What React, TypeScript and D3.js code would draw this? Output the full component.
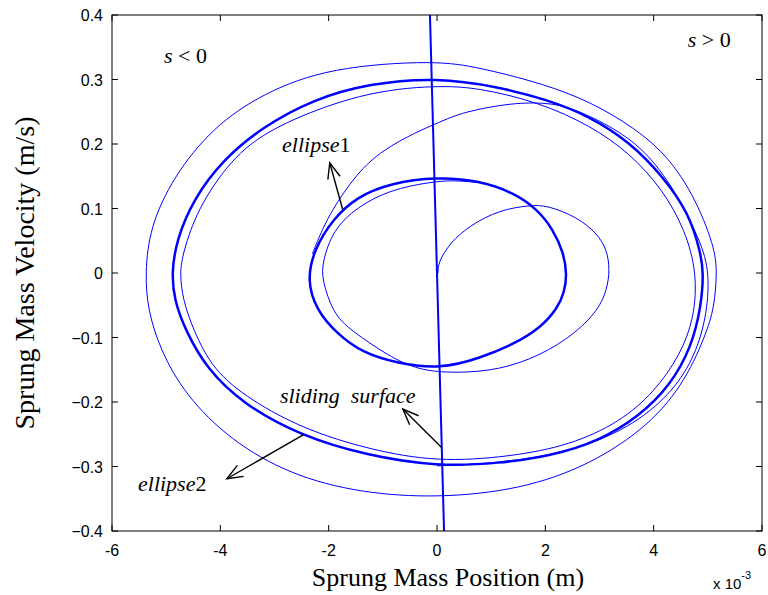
import React, { useEffect, useRef } from 'react';
import * as d3 from 'd3';

// axis ticks (position axis is in units of 1e-3 m)
const xTicks = [-6, -4, -2, 0, 2, 4, 6];
const yTicks = [-0.4, -0.3, -0.2, -0.1, 0, 0.1, 0.2, 0.3, 0.4];

// [position (x1e-3 m), velocity (m/s)]
const startPath: [number, number][] = [
  [0.02, 0.0], [0.02, 0.016], [0.24, 0.047], [0.61, 0.074], [1.16, 0.098], [1.72, 0.105],
  [2.03, 0.105], [2.58, 0.087], [2.95, 0.062], [3.14, 0.036], [3.19, 0.005],
  [3.14, -0.026], [2.95, -0.062], [2.4, -0.104], [1.72, -0.135], [0.98, -0.153],
  [0.11, -0.155], [-0.4, -0.148], [-0.87, -0.13], [-1.61, -0.088], [-1.92, -0.062],
  [-2.12, -0.011], [-2.12, 0.016], [-1.92, 0.067], [-1.48, 0.102], [-0.87, 0.129],
  [-0.13, 0.141], [0.3, 0.144], [0.79, 0.14],
];

const ellipse1: [number, number][] = [
  [0, 0.149], [0.79, 0.143], [1.4, 0.125], [1.85, 0.099], [2.14, 0.068],
  [2.34, 0.031], [2.4, -0.003], [2.35, -0.03], [2.23, -0.054], [1.9, -0.086],
  [1.4, -0.111], [0.79, -0.132], [0.06, -0.149], [-0.74, -0.14], [-1.37, -0.124],
  [-1.85, -0.094], [-2.23, -0.057], [-2.4, -0.011], [-2.27, 0.036], [-1.93, 0.083],
  [-1.48, 0.118], [-0.87, 0.139],
];

const transition: [number, number][] = [
  [-2.3, 0.03], [-2.2, 0.051], [-1.98, 0.093], [-1.48, 0.155], [-1.0, 0.191], [-0.37, 0.219],
  [0, 0.232], [0.48, 0.25], [1.4, 0.264], [2.03, 0.264], [2.46, 0.257],
  [3.19, 0.229], [3.84, 0.191], [4.39, 0.129], [4.86, 0.051], [5.04, 0],
  [4.97, -0.073], [4.73, -0.135], [4.3, -0.189], [3.56, -0.24], [2.46, -0.278],
  [1.16, -0.295], [0, -0.299],
];

const outerLoop: [number, number][] = [
  [0, 0.33], [0.79, 0.318], [1.72, 0.299], [2.64, 0.273], [3.43, 0.237],
  [4.17, 0.191], [4.73, 0.124], [5.13, 0.04], [5.17, 0], [5.12, -0.05],
  [5.0, -0.088], [4.6, -0.166], [3.93, -0.236], [2.82, -0.298], [1.53, -0.336], [0, -0.349],
  [-1.42, -0.341], [-2.71, -0.313], [-3.82, -0.259], [-4.65, -0.189], [-5.11, -0.119],
  [-5.34, -0.057], [-5.39, 0], [-5.3, 0.071], [-4.87, 0.149], [-4.14, 0.226],
  [-3.21, 0.279], [-1.98, 0.319],
];

const ellipse2: [number, number][] = [
  [0, 0.303], [1.11, 0.289], [2.03, 0.269], [2.82, 0.243], [3.56, 0.203],
  [4.17, 0.15], [4.65, 0.093], [4.87, 0.031], [4.92, 0], [4.88, -0.05],
  [4.7, -0.115], [4.3, -0.175], [3.75, -0.221], [3.01, -0.26], [2.09, -0.284],
  [1.16, -0.295], [0, -0.3], [-1.29, -0.283], [-2.53, -0.252],
  [-3.58, -0.203], [-4.25, -0.149], [-4.65, -0.088], [-4.85, -0.042], [-4.9, 0],
  [-4.81, 0.051], [-4.5, 0.114], [-3.95, 0.176], [-3.21, 0.227], [-2.29, 0.269],
  [-1.25, 0.294],
];

const ellipse2Inner: [number, number][] = [
  [0, 0.291], [0.79, 0.287], [1.9, 0.264], [2.82, 0.229], [3.56, 0.186],
  [4.17, 0.129], [4.58, 0.067], [4.8, 0], [4.75, -0.07], [4.49, -0.127],
  [4.02, -0.184], [3.38, -0.231], [2.46, -0.267], [1.35, -0.285], [0, -0.293],
  [-1.24, -0.274], [-2.44, -0.243], [-3.45, -0.197], [-4.14, -0.15], [-4.5, -0.088],
  [-4.69, -0.042], [-4.75, 0], [-4.69, 0.031], [-4.43, 0.098], [-3.82, 0.175],
  [-3.08, 0.226], [-1.37, 0.281],
];

const slidingSurface: [number, number][] = [[-0.13, 0.4], [0.13, -0.4]];

const W = 768;
const H = 595;
const M = { left: 112, right: 6, top: 15, bottom: 64 };

const App = () => {
  const ref = useRef<SVGSVGElement>(null);

  useEffect(() => {
    const svg = d3.select(ref.current);
    svg.selectAll('*').remove();

    const x = d3.scaleLinear().domain([-6, 6]).range([M.left, W - M.right]);
    const y = d3.scaleLinear().domain([-0.4, 0.4]).range([H - M.bottom, M.top]);
    const blue = '#0000ff';

    svg.append('defs').append('clipPath').attr('id', 'plot')
      .append('rect')
      .attr('x', M.left).attr('y', M.top)
      .attr('width', W - M.left - M.right).attr('height', H - M.top - M.bottom);

    const g = svg.append('g').attr('clip-path', 'url(#plot)');

    const open = d3.line<[number, number]>()
      .x(d => x(d[0])).y(d => y(d[1]))
      .curve(d3.curveBasis);
    const closed = d3.line<[number, number]>()
      .x(d => x(d[0])).y(d => y(d[1]))
      .curve(d3.curveBasisClosed);

    const draw = (d: string | null, w: number) =>
      g.append('path').attr('d', d).attr('fill', 'none')
        .attr('stroke', blue).attr('stroke-width', w);

    draw(closed(outerLoop), 1);
    draw(open(transition), 1);
    draw(closed(ellipse2Inner), 1);
    draw(closed(ellipse2), 2.5);
    draw(open(startPath), 1);
    draw(closed(ellipse1), 2.5);
    draw(d3.line()(slidingSurface.map(d => [x(d[0]), y(d[1])] as [number, number])), 2);

    // axes box and inward ticks
    const x0 = M.left, x1 = W - M.right, y0 = M.top, y1 = H - M.bottom;
    const axes = svg.append('g').attr('stroke', 'black').attr('stroke-width', 1);
    axes.append('rect').attr('x', x0).attr('y', y0)
      .attr('width', x1 - x0).attr('height', y1 - y0).attr('fill', 'none');
    xTicks.forEach(t => {
      axes.append('line').attr('x1', x(t)).attr('x2', x(t)).attr('y1', y1).attr('y2', y1 - 6);
      axes.append('line').attr('x1', x(t)).attr('x2', x(t)).attr('y1', y0).attr('y2', y0 + 6);
    });
    yTicks.forEach(t => {
      axes.append('line').attr('x1', x0).attr('x2', x0 + 6).attr('y1', y(t)).attr('y2', y(t));
      axes.append('line').attr('x1', x1).attr('x2', x1 - 6).attr('y1', y(t)).attr('y2', y(t));
    });

    const sans = 'Liberation Sans, Arial, sans-serif';
    const serif = 'Liberation Serif, Times New Roman, serif';

    svg.append('g').selectAll('text').data(xTicks).join('text')
      .attr('x', d => x(d)).attr('y', y1 + 25)
      .attr('text-anchor', 'middle')
      .style('font', `16px ${sans}`)
      .text(d => String(d));

    svg.append('g').selectAll('text').data(yTicks).join('text')
      .attr('x', x0 - 9).attr('y', d => y(d) + 6)
      .attr('text-anchor', 'end')
      .style('font', `16px ${sans}`)
      .text(d => (d === 0 ? '0' : d3.format('.1f')(d)));

    svg.append('text')
      .attr('x', 448).attr('y', 586)
      .attr('text-anchor', 'middle')
      .style('font', `26px ${serif}`)
      .text('Sprung Mass Position (m)');

    svg.append('text')
      .attr('transform', `translate(34,${(y0 + y1) / 2}) rotate(-90)`)
      .attr('text-anchor', 'middle')
      .style('font', `28px ${serif}`)
      .text('Sprung Mass Velocity (m/s)');

    const exp = svg.append('text').attr('x', 713).attr('y', 589)
      .style('font', `15px ${sans}`);
    exp.append('tspan').text('x 10');
    exp.append('tspan').attr('dy', -10).style('font-size', '11px').text('-3');

    // annotations
    const label = (px: number, py: number, italic: string, rest: string) => {
      const t = svg.append('text').attr('x', x(px)).attr('y', y(py))
        .style('font', `22px ${serif}`).style('white-space', 'pre');
      t.append('tspan').style('font-style', 'italic').text(italic);
      t.append('tspan').text(rest);
    };
    label(-5.04, 0.326, 's', ' < 0');
    label(4.63, 0.35, 's', ' > 0');
    label(-2.86, 0.188, 'ellipse', '1');
    label(-2.9, -0.202, 'sliding  surface', '');
    label(-5.52, -0.338, 'ellipse', '2');

    const arrow = (from: [number, number], to: [number, number]) => {
      const ax = x(from[0]), ay = y(from[1]), bx = x(to[0]), by = y(to[1]);
      const ang = Math.atan2(by - ay, bx - ax);
      const len = 17, spread = 0.38;
      const a = svg.append('g').attr('stroke', 'black').attr('stroke-width', 1.4).attr('fill', 'none');
      a.append('line').attr('x1', ax).attr('y1', ay).attr('x2', bx).attr('y2', by);
      a.append('path').attr('d', d3.line()([
        [bx - len * Math.cos(ang - spread), by - len * Math.sin(ang - spread)],
        [bx, by],
        [bx - len * Math.cos(ang + spread), by - len * Math.sin(ang + spread)],
      ]));
    };
    arrow([-1.74, 0.098], [-1.98, 0.171]);
    arrow([0.09, -0.271], [-0.63, -0.211]);
    arrow([-2.47, -0.251], [-3.88, -0.319]);
  }, []);

  return (
    <svg ref={ref} width={W} height={H}
      style={{ position: 'absolute', left: 0, top: 0, background: 'white' }} />
  );
};

export default App;
